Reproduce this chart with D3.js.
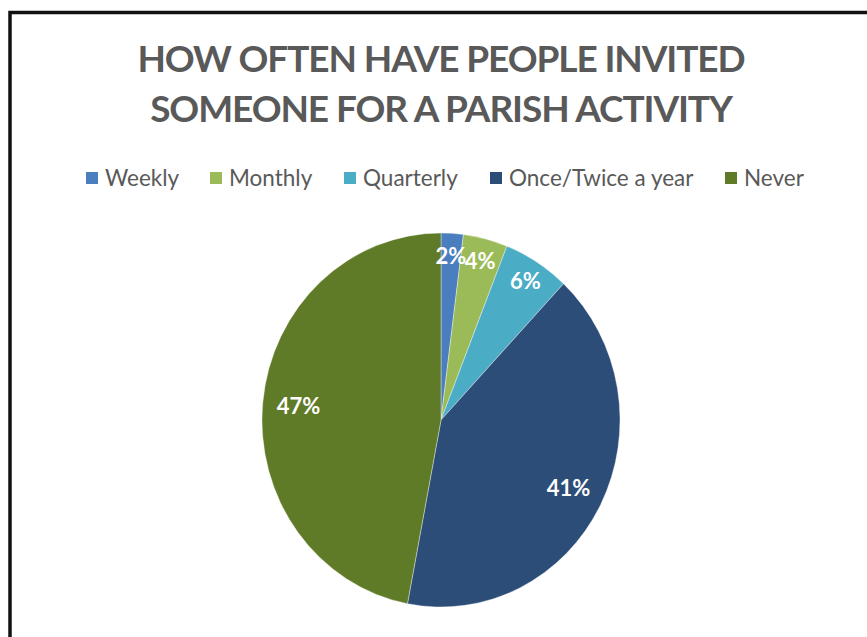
<!DOCTYPE html>
<html><head><meta charset="utf-8">
<script src="https://cdn.jsdelivr.net/npm/d3@7"></script>
<style>
html,body{margin:0;padding:0;background:#fff;}
svg{display:block;}
</style></head>
<body>
<svg id="chart" width="867" height="637"></svg>
<script>
const categories = ["Weekly", "Monthly", "Quarterly", "Once/Twice a year", "Never"];
const values = [2, 4, 6, 41, 47];
const labels = ["2%", "4%", "6%", "41%", "47%"];
const colors = ["#4a7ebf", "#9bbb59", "#4bacc6", "#2c4d77", "#5f7b27"];
const titleLines = ["HOW OFTEN HAVE PEOPLE INVITED", "SOMEONE FOR A PARISH ACTIVITY"];

const svg = d3.select("#chart");
const font = "Lato, 'Open Sans', sans-serif";

// frame (open at bottom/right as in the cropped screenshot)
svg.append("path")
  .attr("d", "M10,640 L10,12.5 L870,12.5")
  .attr("fill", "none").attr("stroke", "#111").attr("stroke-width", 3.5);

// title
svg.append("g").selectAll("text").data(titleLines).join("text")
  .attr("x", 441).attr("y", (d, i) => 72 + i * 50)
  .attr("text-anchor", "middle")
  .attr("font-family", font).attr("font-weight", 700)
  .attr("font-size", 37).attr("letter-spacing", -1.1).attr("fill", "#595959")
  .text(d => d);

// legend
const legendX = [86, 210, 344, 490, 725];
const lg = svg.append("g");
const items = lg.selectAll("g").data(categories).join("g")
  .attr("transform", (d, i) => `translate(${legendX[i]},178)`);
items.append("rect").attr("x", 0).attr("y", -6).attr("width", 12).attr("height", 12)
  .attr("fill", (d, i) => colors[i]);
items.append("text").attr("x", 19).attr("y", 7.5)
  .attr("font-family", font).attr("font-size", 22.5).attr("fill", "#595959")
  .text(d => d);

// pie
const cx = 441, cy = 420, r = 179, sy = 187 / 179;
const pie = d3.pie().sort(null).value(d => d)(values);
const arc = d3.arc().innerRadius(0).outerRadius(r);
const pg = svg.append("g").attr("transform", `translate(${cx},${cy}) scale(1,${sy})`);
pg.selectAll("path").data(pie).join("path")
  .attr("d", arc)
  .attr("fill", (d, i) => colors[i])
  .attr("stroke", "rgba(255,255,255,0.45)").attr("stroke-width", 0.8);

// labels
const lblG = svg.append("g");
lblG.selectAll("text").data(pie).join("text")
  .attr("x", d => {
    const a = (d.startAngle + d.endAngle) / 2;
    const rr = (d.value < 10 ? 0.88 : 0.8) * r;
    return cx + Math.sin(a) * rr;
  })
  .attr("y", d => {
    const a = (d.startAngle + d.endAngle) / 2;
    const rr = (d.value < 10 ? 0.88 : 0.8) * r;
    return cy - Math.cos(a) * rr * sy;
  })
  .attr("dy", "0.36em")
  .attr("text-anchor", "middle")
  .attr("font-family", font).attr("font-weight", 700)
  .attr("font-size", 22).attr("fill", "#fff")
  .text((d, i) => labels[i]);
</script>
</body></html>
